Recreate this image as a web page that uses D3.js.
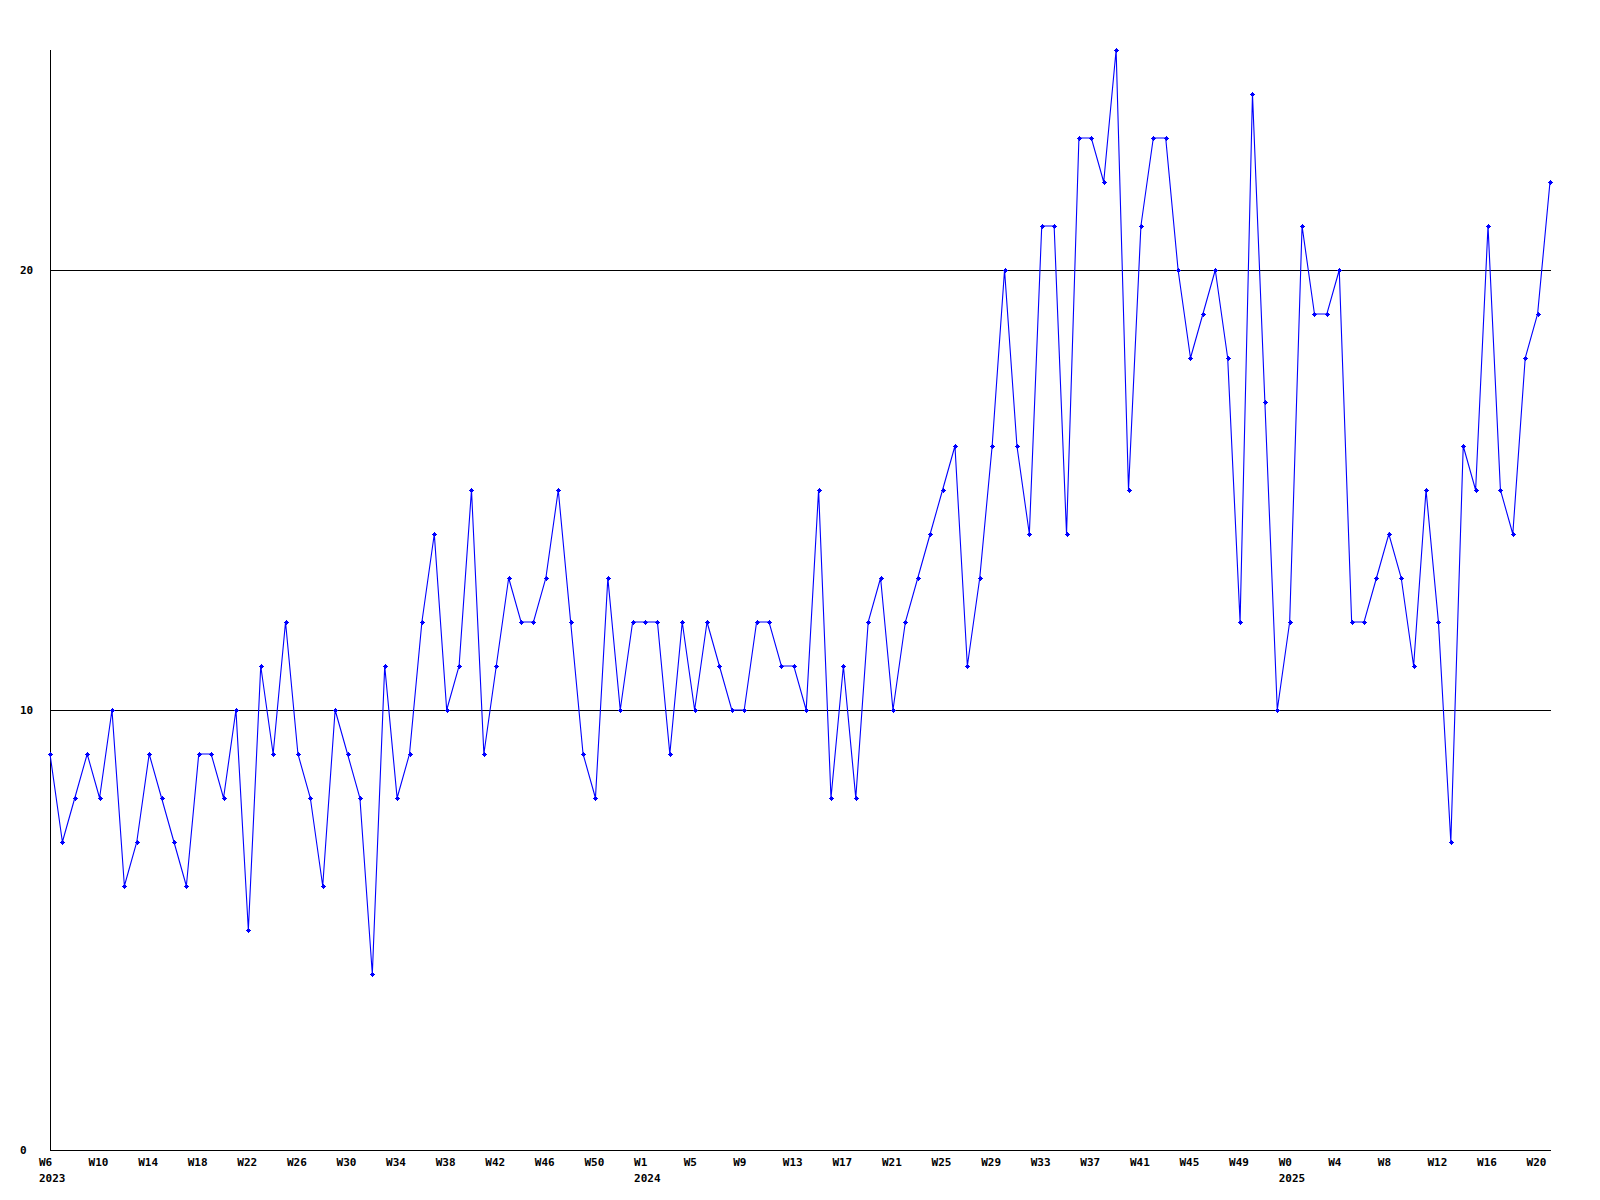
<!DOCTYPE html>
<html>
<head>
<meta charset="utf-8">
<script src="https://cdn.jsdelivr.net/npm/d3@7"></script>
<style>
  html, body { margin: 0; padding: 0; background: #ffffff; }
  svg { display: block; }
  text { font-family: "DejaVu Sans Mono", "Liberation Mono", monospace; font-weight: bold; font-size: 11px; fill: #000; }
</style>
</head>
<body>
<svg id="chart" width="1600" height="1200"></svg>
<script>
// Week segments (year, first week, last week)
const segments = [
  { year: 2023, first: 6, last: 53 },
  { year: 2024, first: 1, last: 52 },
  { year: 2025, first: 0, last: 21 }
];

// Weekly values, in order from 2023 W6 to 2025 W21
const values = [
  9, 7, 8, 9, 8, 10, 6, 7, 9, 8,
  7, 6, 9, 9, 8, 10, 5, 11, 9, 12,
  9, 8, 6, 10, 9, 8, 4, 11, 8, 9,
  12, 14, 10, 11, 15, 9, 11, 13, 12, 12,
  13, 15, 12, 9, 8, 13, 10, 12, 12, 12,
  9, 12, 10, 12, 11, 10, 10, 12, 12, 11,
  11, 10, 15, 8, 11, 8, 12, 13, 10, 12,
  13, 14, 15, 16, 11, 13, 16, 20, 16, 14,
  21, 21, 14, 23, 23, 22, 25, 15, 21, 23,
  23, 20, 18, 19, 20, 18, 12, 24, 17, 10,
  12, 21, 19, 19, 20, 12, 12, 13, 14, 13,
  11, 15, 12, 7, 16, 15, 21, 15, 14, 18,
  19, 22
];

// Labelled x ticks and year labels
const tickLabels = ["W6","W10","W14","W18","W22","W26","W30","W34","W38","W42","W46","W50",
                    "W1","W5","W9","W13","W17","W21","W25","W29","W33","W37","W41","W45","W49",
                    "W0","W4","W8","W12","W16","W20"];
const yearLabels = [ { week: "W6", year: "2023" }, { week: "W1", year: "2024" }, { week: "W0", year: "2025" } ];
const yTicks = [0, 10, 20];

// Build categories
const categories = [];
segments.forEach(s => {
  for (let w = s.first; w <= s.last; w++) categories.push({ key: s.year + "-W" + w, label: "W" + w, year: s.year });
});
const data = categories.map((c, i) => ({ key: c.key, label: c.label, year: c.year, value: values[i] }));

const svg = d3.select("#chart");
const mLeft = 50, mRight = 1550, mTop = 50, mBottom = 1150;

const x = d3.scalePoint().domain(data.map(d => d.key)).range([mLeft, mRight]);
const y = d3.scaleLinear().domain([0, 25]).range([mBottom, mTop]);

// Grid lines at 10 and 20
svg.append("g").selectAll("line").data(yTicks.filter(v => v > 0)).join("line")
  .attr("x1", mLeft).attr("x2", mRight + 1)
  .attr("y1", d => Math.round(y(d)) + 0.5).attr("y2", d => Math.round(y(d)) + 0.5)
  .attr("stroke", "#000").attr("stroke-width", 1);

// Axes lines
svg.append("line").attr("x1", mLeft + 0.5).attr("x2", mLeft + 0.5).attr("y1", mTop).attr("y2", mBottom + 0.5)
  .attr("stroke", "#000");
svg.append("line").attr("x1", mLeft).attr("x2", mRight + 1).attr("y1", mBottom + 0.5).attr("y2", mBottom + 0.5)
  .attr("stroke", "#000");

// Y labels
svg.append("g").selectAll("text").data(yTicks).join("text")
  .attr("x", 20).attr("y", d => y(d)).attr("dy", "0.35em")
  .text(d => d);

// X tick labels
const tickData = data.filter((d, i) => i % 4 === 0);
svg.append("g").selectAll("text").data(tickData).join("text")
  .attr("x", d => x(d.key) - 11).attr("y", mBottom + 16)
  .text((d, i) => tickLabels[i]);

// Year labels
const firstOfYear = yearLabels.map(yl => {
  const d = tickData.find(t => t.label === yl.week && String(t.year) === yl.year);
  return { key: d.key, year: yl.year };
});
svg.append("g").selectAll("text").data(firstOfYear).join("text")
  .attr("x", d => x(d.key) - 11).attr("y", mBottom + 32)
  .text(d => d.year);

// Line
const line = d3.line().x(d => x(d.key)).y(d => y(d.value));
svg.append("path").datum(data).attr("d", line)
  .attr("fill", "none").attr("stroke", "#0000ff").attr("stroke-width", 1.1);

// Markers
const mk = svg.append("g").selectAll("g").data(data).join("g")
  .attr("transform", d => `translate(${Math.round(x(d.key))},${Math.round(y(d.value))})`);
mk.append("path").attr("d", "M-2,0.5H3M0.5,-2V3").attr("stroke", "#0000ff").attr("stroke-width", 1);
mk.append("rect").attr("x", -1).attr("y", -1).attr("width", 3).attr("height", 3).attr("fill", "#0000ff");
</script>
</body>
</html>
